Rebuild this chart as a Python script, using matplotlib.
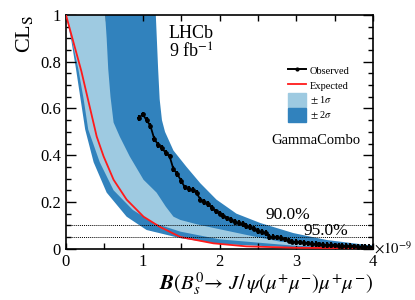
"""CLs scan for B(Bs0 -> J/psi(mu mu) mu mu), LHCb 9 fb-1."""

import matplotlib

matplotlib.use("Agg")
import matplotlib.pyplot as plt
from matplotlib.lines import Line2D
from matplotlib.patches import Patch

# observed CLs points (branching fraction in units of 1e-9)
obs_x = [0.95, 1.00, 1.05, 1.10, 1.15, 1.20, 1.25, 1.30, 1.35, 1.40,
         1.45, 1.50, 1.55, 1.60, 1.65, 1.70, 1.75, 1.80, 1.85, 1.90,
         1.95, 2.00, 2.05, 2.10, 2.15, 2.20, 2.25, 2.30, 2.35, 2.40,
         2.45, 2.50, 2.55, 2.60, 2.65, 2.70, 2.75, 2.80, 2.85, 2.90,
         2.95, 3.00, 3.05, 3.10, 3.15, 3.20, 3.25, 3.30, 3.35, 3.40,
         3.45, 3.50, 3.55, 3.60, 3.65, 3.70, 3.75, 3.80, 3.85, 3.90,
         3.95, 4.00]
obs_y = [0.560, 0.575, 0.550, 0.525, 0.470, 0.445, 0.430, 0.410, 0.395, 0.340,
         0.320, 0.290, 0.262, 0.255, 0.252, 0.240, 0.210, 0.200, 0.190, 0.175,
         0.160, 0.150, 0.140, 0.130, 0.122, 0.115, 0.110, 0.105, 0.098, 0.092,
         0.086, 0.075, 0.072, 0.068, 0.050, 0.052, 0.048, 0.045, 0.040, 0.035,
         0.030, 0.029, 0.027, 0.025, 0.023, 0.021, 0.020, 0.018, 0.017, 0.016,
         0.015, 0.014, 0.013, 0.012, 0.011, 0.011, 0.010, 0.009, 0.009, 0.008,
         0.007, 0.007]
obs_yerr = 0.012

# expected CLs
exp_x = [0.0, 0.10, 0.20, 0.30, 0.40, 0.49, 0.62, 0.79, 1.01, 1.22, 1.49, 1.92, 2.35, 3.0, 4.0]
exp_y = [1.0, 0.88, 0.76, 0.62, 0.48, 0.395, 0.295, 0.21, 0.137, 0.094, 0.050, 0.023, 0.010, 0.004, 0.002]

# +-1 sigma band edges
sig1_up_x = [0.0, 0.51, 0.53, 0.55, 0.58, 0.62, 0.70, 0.83, 1.01, 1.18, 1.30, 1.40, 1.49, 1.70, 1.92, 2.35, 2.79, 3.30, 4.0]
sig1_up_y = [1.0, 1.0, 0.90, 0.77, 0.65, 0.54, 0.48, 0.395, 0.295, 0.24, 0.18, 0.137, 0.123, 0.105, 0.089, 0.059, 0.030, 0.018, 0.008]
sig1_lo_x = [0.0, 0.08, 0.16, 0.23, 0.29, 0.44, 0.62, 0.87, 1.14, 1.49, 2.0, 3.0, 4.0]
sig1_lo_y = [1.0, 0.89, 0.77, 0.64, 0.51, 0.37, 0.25, 0.166, 0.11, 0.073, 0.040, 0.012, 0.005]

# +-2 sigma band edges
sig2_up_x = [0.0, 1.17, 1.20, 1.22, 1.25, 1.29, 1.40, 1.57, 1.75, 1.96, 2.22, 2.53, 2.96, 3.40, 3.92, 4.0]
sig2_up_y = [1.0, 1.0, 0.77, 0.64, 0.55, 0.50, 0.42, 0.35, 0.28, 0.21, 0.15, 0.11, 0.067, 0.037, 0.016, 0.014]
sig2_lo_x = [0.0, 0.07, 0.13, 0.19, 0.25, 0.36, 0.53, 0.79, 1.05, 1.49, 2.0, 3.0, 4.0]
sig2_lo_y = [1.0, 0.89, 0.77, 0.64, 0.51, 0.37, 0.24, 0.137, 0.08, 0.045, 0.020, 0.005, 0.002]

cl_levels = [0.10, 0.05]
cl_labels = ["90.0%", "95.0%"]
cl_label_x = [2.60, 3.10]
cl_label_y = [0.145, 0.074]

x_ticks = [0, 1, 2, 3, 4]
x_minor = [0.5, 1.5, 2.5, 3.5]
y_ticks = [0, 0.2, 0.4, 0.6, 0.8, 1.0]
y_tick_labels = ["0", "0.2", "0.4", "0.6", "0.8", "1"]
y_minor = [i * 0.05 for i in range(21)]

LIGHT = "#9ecae1"
DARK = "#3182bd"


def main() -> None:
    plt.rcParams["font.family"] = ["Liberation Serif", "DejaVu Serif"]
    plt.rcParams["mathtext.fontset"] = "stix"

    fig = plt.figure(figsize=(4.15, 3.0), dpi=100)
    ax = fig.add_axes([0.159, 0.171, 0.740, 0.779])

    ax.fill(sig2_up_x + sig2_lo_x[::-1], sig2_up_y + sig2_lo_y[::-1],
            color=DARK, lw=0, zorder=1)
    ax.fill(sig1_up_x + sig1_lo_x[::-1], sig1_up_y + sig1_lo_y[::-1],
            color=LIGHT, lw=0, zorder=2)
    ax.plot(exp_x, exp_y, color="#ff1a1a", lw=1.3, zorder=3)
    ax.errorbar(obs_x, obs_y, xerr=0.025, yerr=obs_yerr, fmt="o-", ms=2.4, lw=1.3,
                color="black", ecolor="black", elinewidth=1.5, capsize=0, zorder=4)

    for level, text, tx, ty in zip(cl_levels, cl_labels, cl_label_x, cl_label_y):
        ax.axhline(level, color="black", ls=(0, (1, 1)), lw=0.7, zorder=5)
        ax.text(tx, ty, text, fontsize=12.5, va="center", ha="left", zorder=6)

    ax.set_xlim(0, 4)
    ax.set_ylim(0, 1)
    ax.set_xticks(x_ticks)
    ax.set_xticklabels([str(t) for t in x_ticks])
    ax.set_xticks(x_minor, minor=True)
    ax.set_yticks(y_ticks)
    ax.set_yticklabels(y_tick_labels)
    ax.set_yticks(y_minor, minor=True)
    ax.tick_params(which="both", direction="in", top=True, right=True, labelsize=12, width=1.0)
    ax.tick_params(axis="y", which="major", length=7)
    ax.tick_params(axis="y", which="minor", length=3.5)
    ax.tick_params(axis="x", which="both", length=4)
    ax.tick_params(axis="x", pad=4)
    for spine in ax.spines.values():
        spine.set_linewidth(1.2)

    ax.set_ylabel(r"CL$_{\mathrm{S}}$", fontsize=16, loc="top", labelpad=4)
    ax.set_xlabel(r"$\boldsymbol{B}(B_s^0\!\rightarrow\, J/\,\psi(\mu^{+}\mu^{-})\mu^{+}\mu^{-})$",
                  fontsize=15, loc="right", labelpad=0)
    ax.text(1.003, 0.0, r"$\times10^{-9}$", transform=ax.transAxes, fontsize=10.5,
            ha="left", va="center")

    ax.text(1.34, 0.92, "LHCb", fontsize=13, va="center")
    ax.text(1.34, 0.84, r"9 fb$^{-1}$", fontsize=13, va="center")

    handles = [
        Line2D([0], [0], color="black", marker="o", ms=2, lw=1.4),
        Line2D([0], [0], color="#ff1a1a", lw=1.3),
        Patch(color=LIGHT),
        Patch(color=DARK),
    ]
    labels = ["Observed", "Expected", r"$\pm$ 1$\sigma$", r"$\pm$ 2$\sigma$"]
    ax.legend(handles, labels, loc="upper left", bbox_to_anchor=(0.71, 0.81),
              frameon=False, fontsize=7.5, handlelength=1.7, handleheight=1.6,
              labelspacing=0.15, handletextpad=0.4, borderaxespad=0)
    ax.text(2.68, 0.465, "GammaCombo", fontsize=10.5, va="center")

    fig.savefig("out.png", dpi=100)
    plt.close(fig)


if __name__ == "__main__":
    main()
